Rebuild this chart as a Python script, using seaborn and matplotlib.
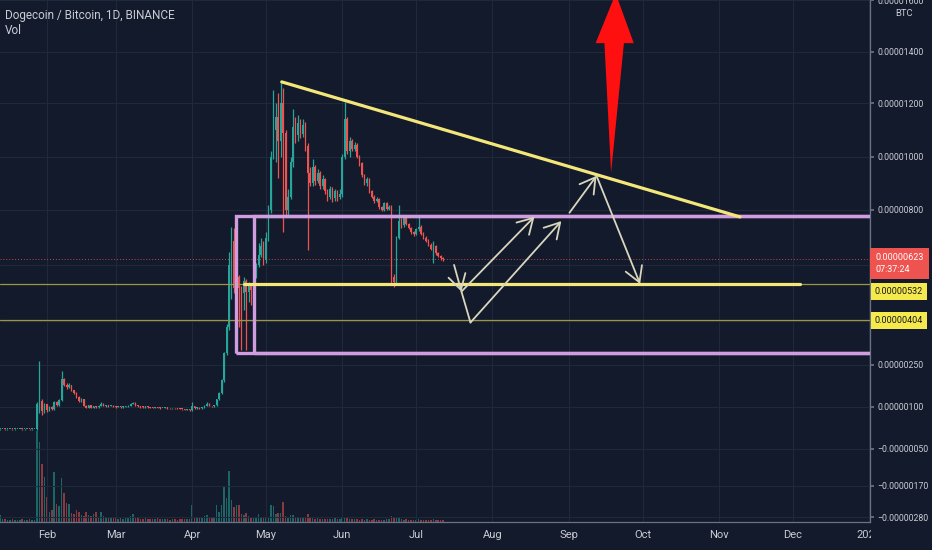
import numpy as np
import pandas as pd
import matplotlib
matplotlib.use('Agg')
import matplotlib.pyplot as plt
import matplotlib.dates as mdates
import matplotlib.transforms as mtransforms
from matplotlib.patches import Rectangle, Polygon
import seaborn as sns

# DOGE/BTC daily candles in satoshi (1e-8 BTC), 2019-01-13 .. 2019-07-12
first_open = 20
close = [
    20, 21, 20, 20, 21, 20, 20, 21, 21, 20, 20, 21, 20, 20, 21, 110, 120, 85, 110,
    88, 100, 92, 118, 108, 125, 200, 180, 170, 178, 160, 150, 135, 122, 128, 105, 98, 106, 98, 102,
    99, 104, 112, 104, 104, 103, 105, 102,
    100, 101, 99, 100, 102, 104, 112, 115, 106, 102, 100, 99, 101, 100, 98, 97, 99, 98, 96, 97,
    98, 96, 95, 96, 95, 94, 93, 92, 90, 91, 88,
    102, 96, 98, 95, 99, 104, 112, 104, 102, 106, 128, 150, 195, 290, 380, 600, 690, 520, 560, 520,
    500, 545, 505, 530, 510, 560, 600, 640, 670, 620,
    700, 800, 1000, 1100, 1150, 1060, 1200, 1090, 800, 850, 980, 1110, 1080, 1125, 1085, 1120, 1040, 940, 900, 960,
    910, 940, 890, 915, 870, 850, 880, 845, 870, 850, 860,
    1000, 1140, 1020, 1060, 1030, 1045, 1000, 975, 930, 900, 915, 870, 850, 835, 840, 810, 800, 825, 805, 812,
    560, 540, 700, 760, 745, 770, 750, 735, 720, 715,
    730, 740, 715, 700, 690, 675, 660, 670, 645, 635, 628, 623,
]
high = [
    21, 22, 21, 21, 22, 21, 21, 22, 22, 21, 21, 22, 21, 21, 22, 118, 262, 128, 115,
    112, 104, 103, 122, 120, 128, 229, 205, 185, 185, 180, 162, 152, 138, 132, 130, 108, 108, 107, 104,
    103, 106, 116, 113, 106, 106, 107, 106,
    103, 103, 102, 102, 104, 106, 114, 119, 116, 107, 103, 102, 102, 102, 101, 99, 100, 100, 99, 98,
    99, 99, 97, 97, 97, 96, 95, 94, 93, 93, 92,
    118, 104, 100, 99, 101, 106, 116, 113, 105, 108, 130, 155, 200, 295, 390, 650, 740, 735, 610, 565,
    525, 560, 550, 540, 535, 565, 610, 680, 700, 690,
    720, 820, 1020, 1250, 1200, 1240, 1283, 1260, 1100, 880, 1000, 1180, 1150, 1157, 1140, 1140, 1130, 1050, 960, 990,
    970, 955, 945, 930, 920, 880, 890, 885, 880, 875, 880,
    1010, 1205, 1150, 1075, 1065, 1055, 1050, 1005, 980, 935, 925, 920, 875, 855, 850, 845, 815, 830, 830, 818,
    818, 570, 705, 818, 770, 780, 775, 755, 740, 725,
    735, 775, 745, 720, 705, 695, 680, 690, 675, 650, 640, 632,
]
low = [
    19, 20, 19, 19, 20, 19, 19, 20, 20, 19, 19, 20, 19, 19, 20, 19, 80, 72, 80,
    82, 86, 88, 90, 104, 105, 122, 175, 165, 166, 156, 146, 132, 118, 119, 102, 95, 96, 96, 97,
    97, 98, 103, 102, 101, 101, 102, 100,
    98, 99, 97, 98, 99, 101, 103, 110, 104, 100, 98, 97, 98, 98, 96, 95, 96, 96, 94, 95,
    96, 94, 93, 94, 93, 92, 91, 90, 88, 89, 86,
    86, 94, 94, 93, 94, 98, 103, 102, 100, 100, 104, 126, 148, 190, 285, 370, 480, 500, 470, 380,
    300, 440, 300, 470, 460, 505, 555, 595, 630, 600,
    610, 690, 790, 990, 980, 920, 1000, 720, 780, 780, 840, 960, 1050, 1060, 1070, 1075, 1020, 656, 890, 890,
    895, 900, 880, 880, 860, 835, 840, 830, 835, 835, 840,
    850, 990, 1010, 1000, 1020, 1020, 995, 965, 925, 895, 890, 865, 845, 828, 830, 805, 795, 795, 800, 800,
    530, 522, 530, 695, 735, 740, 745, 730, 715, 705,
    710, 725, 710, 695, 685, 670, 655, 610, 640, 630, 622, 618,
]
volume = [
    7, 3, 3, 2, 2, 3, 2, 2, 2, 3, 2, 2, 3, 2, 2, 91, 80, 58, 45,
    25, 10, 12, 50, 18, 16, 44, 29, 19, 18, 9, 8, 12, 10, 7, 6, 10, 7, 6, 8, 10, 5, 10, 6, 4, 5, 4, 4,
    4, 3, 4, 3, 5, 5, 6, 8, 5, 4, 3, 3, 4, 3, 3, 3, 3, 4, 3, 3, 3, 3, 2, 3, 3, 2, 3, 3, 3, 3, 3,
    17, 4, 4, 5, 5, 6, 7, 4, 4, 5, 17, 10, 17, 36, 24, 51, 22, 15, 17, 17, 8, 7, 9, 6, 5, 5, 5, 8, 5, 5,
    5, 5, 17, 16, 8, 9, 9, 20, 6, 5, 7, 7, 5, 4, 5, 4, 5, 8, 4, 4, 3, 4, 3, 3, 3, 3, 3, 3, 4, 3, 3,
    4, 5, 4, 3, 3, 3, 3, 2, 3, 2, 3, 2, 2, 3, 2, 2, 2, 2, 3, 3, 6, 5, 5, 4, 3, 2, 3, 2, 2, 2,
    2, 3, 2, 2, 2, 2, 2, 3, 2, 2, 2, 2,
]

# price scale of the screenshot (not quite linear): tick value -> height from top
scale_vals = [-400, -280, -170, -50, 100, 250, 400, 404, 532, 600, 623, 800, 1000, 1200, 1400, 1600, 1800]
scale_pix = [551.8, 517.5, 486, 449, 407, 365, 321.4, 320.3, 284.3, 265.5, 259.3, 210, 156.7, 103.3, 51.7, 0, -51.6]
price_ticks = [-280, -170, -50, 100, 250, 400, 600, 800, 1000, 1200, 1400, 1600]

# drawings on the chart
trend = (['2019-05-07 10:00', '2019-11-09 14:00'], [1283, 775])
support = (['2019-04-22 00:00', '2019-12-04 00:00'], [532, 532])
h_lines = [532, 404]
box_left = ['2019-04-18 17:00', '2019-04-26 00:00']
box_low, box_high = 290, 780
arrow_pts = {
    'p1': ('2019-07-16 10:00', 602), 'p2': ('2019-07-19 10:00', 506),
    'p3': ('2019-07-23 02:00', 396), 'p4': ('2019-08-18 02:00', 776),
    'p5': ('2019-08-29 00:00', 760), 'p6': ('2019-09-01 07:00', 790),
    'p7': ('2019-09-12 07:00', 928), 'p8': ('2019-09-30 00:00', 533),
}
red_arrow = [('2019-09-20 02:00', 1625), ('2019-09-27 10:00', 1433), ('2019-09-23 10:00', 1433),
             ('2019-09-18 05:00', 940), ('2019-09-15 12:00', 1433), ('2019-09-11 22:00', 1433)]
last_price = 623

bg = '#131a2b'
grid_c = '#20283b'
text_c = '#c9ccd4'
up_c, down_c = '#26a69a', '#ef5350'
yellow = '#f4e77a'
purple = '#cf9de0'
arrow_c = '#d8d6bd'

sns.set_theme(style='dark')
plt.rcParams['font.family'] = ['Roboto', 'DejaVu Sans']


def num(s):
    return mdates.date2num(pd.Timestamp(s))


def fwd(v):
    return -np.interp(np.asarray(v, dtype=float), scale_vals, scale_pix)


def inv(u):
    return np.interp(-np.asarray(u, dtype=float), scale_pix[::-1], scale_vals[::-1])


def price_fmt(v):
    return ('\u2212' if v < 0 else '') + f'{abs(v) / 1e8:.8f}'


dates = pd.date_range('2019-01-13', periods=len(close), freq='D')
df = pd.DataFrame({'date': dates, 'close': close, 'high': high, 'low': low, 'volume': volume})
df['open'] = [first_open] + close[:-1]
df['x'] = mdates.date2num(df['date'])
df['up'] = df['close'] >= df['open']
df['color'] = np.where(df['up'], up_c, down_c)
df['body_lo'] = df[['open', 'close']].min(axis=1)
df['body_h'] = (df['close'] - df['open']).abs().clip(lower=3)

W, H = 932, 550
fig = plt.figure(figsize=(W / 100, H / 100), dpi=100, facecolor=bg)
rect = [0, 28 / H, 870 / W, 522 / H]
axv = fig.add_axes(rect)
ax = fig.add_axes(rect, sharex=axv)
ax.set_zorder(1)
axv.set_zorder(0)
ax.patch.set_alpha(0)
axv.set_facecolor(bg)

# volume pane
axv.bar(df['x'], df['volume'], width=0.62, color=df['color'], alpha=0.55, lw=0)
axv.set_ylim(0, 522)
axv.set_axis_off()

# candles
ax.set_yscale('function', functions=(fwd, inv))
ax.vlines(df['x'], df['low'], df['high'], colors=df['color'], lw=0.9, zorder=2)
ax.bar(df['x'], df['body_h'], bottom=df['body_lo'], width=0.62, color=df['color'], lw=0, zorder=2)

ax.set_xlim(num('2019-01-12 23:30'), num('2020-01-01 09:00'))
ax.set_ylim(-296, 1600)

# grid and axes
ax.set_axisbelow(True)
ax.grid(True, color=grid_c, lw=0.8)
ax.xaxis.set_major_locator(mdates.MonthLocator())
ax.xaxis.set_major_formatter(plt.FuncFormatter(
    lambda v, _: '2020' if mdates.num2date(v).month == 1 else mdates.num2date(v).strftime('%b')))
ax.yaxis.tick_right()
ax.set_yticks(price_ticks)
ax.set_yticklabels(['' if t in (400, 600) else price_fmt(t) for t in price_ticks])
ax.tick_params(axis='y', colors='#6b7285', labelcolor=text_c, labelsize=6.3, length=3, pad=2.5)
ax.tick_params(axis='x', colors='#6b7285', labelcolor=text_c, labelsize=8, length=3, pad=3)
for side in ['left', 'top']:
    ax.spines[side].set_visible(False)
for side in ['right', 'bottom']:
    ax.spines[side].set_color('#6b7285')
    ax.spines[side].set_linewidth(0.9)

# horizontal levels
ax.axhline(last_price, color=down_c, lw=0.7, ls=(0, (1, 2)), alpha=0.8, zorder=3)
for lvl in h_lines:
    ax.axhline(lvl, color='#9c9642', lw=0.9, zorder=3)

for left in box_left:
    ax.add_patch(Rectangle((num(left), box_low), num('2020-03-01') - num(left), box_high - box_low,
                           fill=False, ec=purple, lw=2.4, zorder=4))

sns.lineplot(x=[num(d) for d in support[0]], y=support[1], ax=ax, color=yellow, lw=2.3, zorder=5)
sns.lineplot(x=[num(d) for d in trend[0]], y=trend[1], ax=ax, color=yellow, lw=2.3, zorder=5)


def pt(key):
    d, v = arrow_pts[key]
    return (num(d), v)


aprops = dict(arrowstyle='->,head_length=0.6,head_width=0.35', color=arrow_c, lw=1.3,
              shrinkA=0, shrinkB=0, mutation_scale=18)
for a, b, head in [('p1', 'p2', True), ('p2', 'p3', False), ('p3', 'p5', True),
                   ('p2', 'p4', True), ('p6', 'p7', True), ('p7', 'p8', True)]:
    if head:
        ax.annotate('', xy=pt(b), xytext=pt(a), arrowprops=aprops, zorder=6)
    else:
        ax.plot([pt(a)[0], pt(b)[0]], [pt(a)[1], pt(b)[1]], color=arrow_c, lw=1.3, zorder=6)

ax.add_patch(Polygon([(num(d), v) for d, v in red_arrow], closed=True, fc='#ff1010', ec='none', zorder=7))

# price labels on the scale
trans = mtransforms.blended_transform_factory(ax.transAxes, ax.transData)
ax.annotate(price_fmt(last_price) + '\n07:37:24', xy=(1, last_price), xycoords=trans,
            xytext=(4, 4.5), textcoords='offset points', ha='left', va='top', fontsize=6.5,
            color='white', linespacing=1.4, annotation_clip=False, zorder=8,
            bbox=dict(boxstyle='square,pad=0.6', fc='#ef5350', ec='none'))
ax.annotate(price_fmt(532), xy=(1, 532), xycoords=trans, xytext=(3.5, -5), textcoords='offset points',
            ha='left', va='center', fontsize=6.5, color='#131722', annotation_clip=False, zorder=8,
            bbox=dict(boxstyle='square,pad=0.45', fc='#f5e94c', ec='none'))
ax.annotate(price_fmt(404), xy=(1, 404), xycoords=trans, xytext=(3.5, 0), textcoords='offset points',
            ha='left', va='center', fontsize=6.5, color='#131722', annotation_clip=False, zorder=8,
            bbox=dict(boxstyle='square,pad=0.45', fc='#f5e94c', ec='none'))

fig.text(5 / W, 1 - 15 / H, 'Dogecoin / Bitcoin, 1D, BINANCE', color=text_c, fontsize=8.5, va='center')
fig.text(5 / W, 1 - 30 / H, 'Vol', color=text_c, fontsize=8.5, va='center')
fig.text(904 / W, 1 - 14 / H, 'BTC', color=text_c, fontsize=6.8, ha='center', va='center')
fig.add_artist(Rectangle((871 / W, 0), 61 / W, 27 / H, transform=fig.transFigure,
                         fc=bg, ec='none', zorder=10))

fig.savefig('out.png', dpi=100, facecolor=bg)
